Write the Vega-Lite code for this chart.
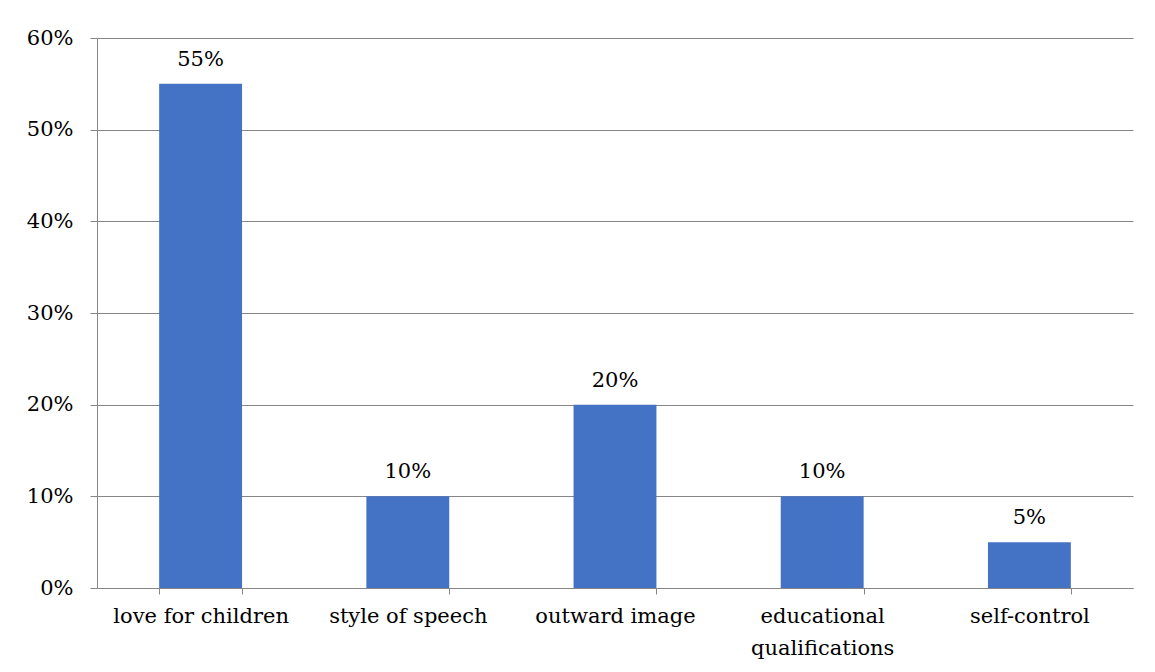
{
  "$schema": "https://vega.github.io/schema/vega-lite/v6.json",
  "autosize": "none",
  "width": 1036,
  "height": 550,
  "padding": {"left": 97, "top": 38, "right": 22, "bottom": 84},
  "background": "white",
  "config": {
    "font": "DejaVu Serif",
    "view": {"stroke": null},
    "axis": {"labelFont": "DejaVu Serif", "labelColor": "black", "domainColor": "#868686", "tickColor": "#868686", "gridColor": "#868686", "labelFontSize": 21}
  },
  "data": {
    "values": [
      {"category": "love for children", "value": 0.55},
      {"category": "style of speech", "value": 0.10},
      {"category": "outward image", "value": 0.20},
      {"category": "educational qualifications", "value": 0.10},
      {"category": "self-control", "value": 0.05}
    ]
  },
  "encoding": {
    "x": {
      "field": "category", "type": "nominal", "sort": null, "title": null,
      "scale": {"paddingInner": 0.6, "paddingOuter": 0.3},
      "axis": {
        "labelAngle": 0, "tickBand": "extent", "tickSize": 6, "labelPadding": 11,
        "labelBaseline": "top", "labelLimit": 0, "labelLineHeight": 32,
        "labelExpr": "datum.label == 'educational qualifications' ? ['educational', 'qualifications'] : datum.label"
      }
    },
    "y": {
      "field": "value", "type": "quantitative", "title": null,
      "scale": {"domain": [0, 0.6]},
      "axis": {"values": [0, 0.1, 0.2, 0.3, 0.4, 0.5, 0.6], "format": ".0%", "tickSize": 7, "labelPadding": 17, "grid": true, "domain": true}
    }
  },
  "layer": [
    {"mark": {"type": "bar", "color": "#4472C4"}},
    {"mark": {"type": "text", "baseline": "bottom", "dy": -14, "fontSize": 21, "font": "DejaVu Serif", "color": "black"},
     "encoding": {"text": {"field": "value", "type": "quantitative", "format": ".0%"}}}
  ]
}
